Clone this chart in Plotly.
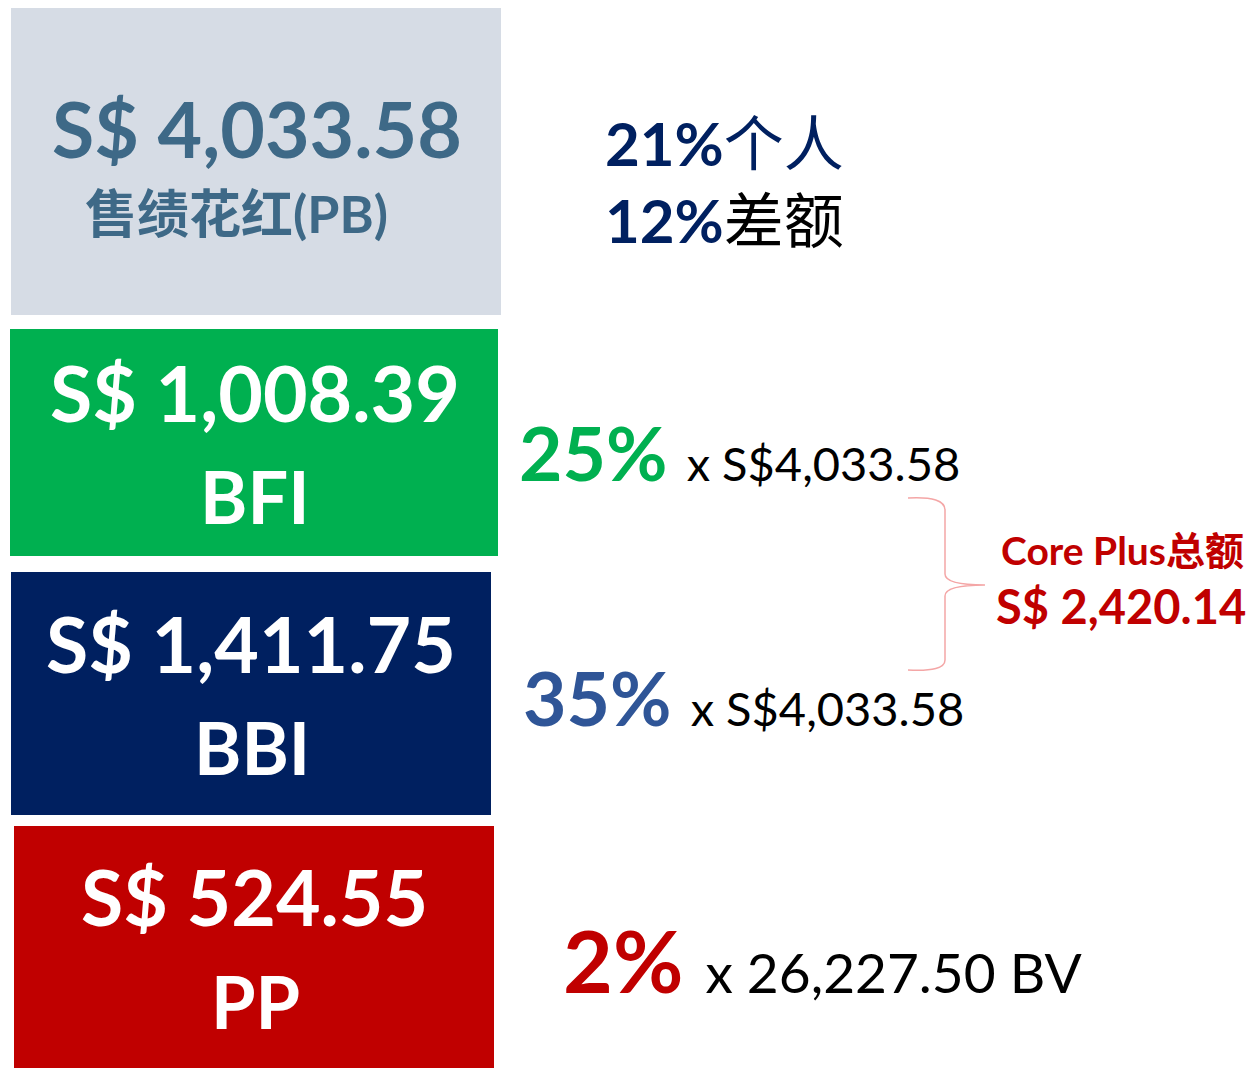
import plotly.graph_objects as go

# ---- data ----
box_names = ["PB", "BFI", "BBI", "PP"]
box_amounts = ["S$ 4,033.58", "S$ 1,008.39", "S$ 1,411.75", "S$ 524.55"]
box_labels = ["售绩花红(PB)", "BFI", "BBI", "PP"]
box_fill = ["#D6DCE5", "#00B050", "#002060", "#C00000"]
box_text_color = ["#3E6987", "#FFFFFF", "#FFFFFF", "#FFFFFF"]
box_x0 = [11, 10, 11, 14]
box_x1 = [501, 498, 491, 494]
box_y0 = [5, 329, 572, 826]
box_y1 = [315, 556, 815, 1068]

pb_split_pct = ["21%", "12%"]
pb_split_label = ["个人", "差额"]

rate_pct = ["25%", "35%", "2%"]
rate_base = ["x S$4,033.58", "x S$4,033.58", "x 26,227.50 BV"]
rate_color = ["#00B050", "#2F5597", "#C00000"]

core_plus_title = "Core Plus总额"
core_plus_total = "S$ 2,420.14"

FONT_B = "Lato, 'Noto Sans CJK SC', sans-serif"
OFF = 8  # page body margin

fig = go.Figure()
fig.add_trace(go.Scatter(x=[OFF, 1255], y=[OFF, 1074], mode="markers",
                         marker=dict(opacity=0), hoverinfo="skip", showlegend=False))

shapes = []
ann = []
for i in range(len(box_names)):
    shapes.append(dict(type="rect", xref="x", yref="y",
                       x0=box_x0[i], x1=box_x1[i], y0=box_y0[i], y1=box_y1[i],
                       fillcolor=box_fill[i], line=dict(width=0), layer="below"))

# box texts
amt_pos = [(257, 128), (255, 392), (251, 643), (254, 896)]
lab_pos = [(236, 213), (255, 496), (252, 747), (255, 1001)]
for i in range(len(box_names)):
    ax_, ay_ = amt_pos[i]
    ann.append(dict(x=ax_, y=ay_, text="<b>%s</b>" % box_amounts[i], showarrow=False,
                    xanchor="center", yanchor="middle",
                    font=dict(family=FONT_B, size=77, color=box_text_color[i])))
    lx, ly = lab_pos[i]
    ann.append(dict(x=lx, y=ly, text="<b>%s</b>" % box_labels[i], showarrow=False,
                    xanchor="center", yanchor="middle",
                    font=dict(family=FONT_B, size=(52 if i == 0 else 72),
                              color=box_text_color[i])))

# PB split
split_y = [143, 220]
split_label_color = ["#002060", "#000000"]
for i in range(2):
    ann.append(dict(x=603, y=split_y[i],
                    text="<b>%s</b><span style='color:%s'>%s</span>" % (
                        pb_split_pct[i], split_label_color[i], pb_split_label[i]),
                    showarrow=False, xanchor="left", yanchor="middle",
                    font=dict(family=FONT_B, size=60, color="#002060")))

# rates
rate_x = [517, 521, 561]
rate_y = [452, 697, 959]
pct_size = [75, 75, 86]
base_size = [47, 47, 55]
for i in range(3):
    ann.append(dict(x=rate_x[i], y=rate_y[i],
                    text="<b>%s</b> <span style='font-size:%dpx;color:#000000'>%s</span>" % (
                        rate_pct[i], base_size[i], rate_base[i]),
                    showarrow=False, xanchor="left", yanchor="middle",
                    font=dict(family=FONT_B, size=pct_size[i], color=rate_color[i])))

# brace
shapes.append(dict(type="path", xref="x", yref="y",
                   path="M 908 498 Q 945 496 945 510 L 945 574 Q 945 585 985 585 "
                        "Q 945 585 945 596 L 945 660 Q 945 672 908 670",
                   line=dict(color="#F4A6A6", width=1.5)))

ann.append(dict(x=1122, y=550, text="<b>%s</b>" % core_plus_title, showarrow=False,
                xanchor="center", yanchor="middle",
                font=dict(family=FONT_B, size=39, color="#C00000")))
ann.append(dict(x=1121, y=606, text="<b>%s</b>" % core_plus_total, showarrow=False,
                xanchor="center", yanchor="middle",
                font=dict(family=FONT_B, size=47, color="#C00000")))

fig.update_layout(
    width=1255 - OFF, height=1074 - OFF, margin=dict(l=0, r=0, t=0, b=0),
    paper_bgcolor="white", plot_bgcolor="white",
    xaxis=dict(range=[OFF, 1255], visible=False, fixedrange=True),
    yaxis=dict(range=[1074, OFF], visible=False, fixedrange=True),
    shapes=shapes, annotations=ann, showlegend=False,
)
fig.write_html("out.html")
